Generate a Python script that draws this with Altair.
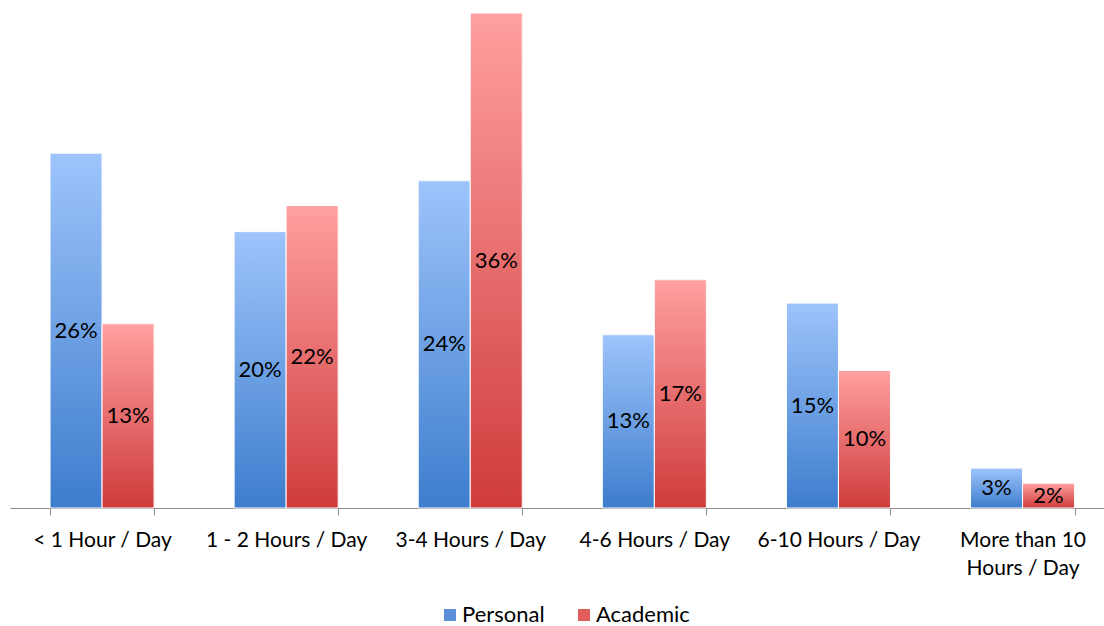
import altair as alt
import pandas as pd

categories = ["< 1 Hour / Day", "1 - 2 Hours / Day", "3-4 Hours / Day",
              "4-6 Hours / Day", "6-10 Hours / Day", "More than 10 Hours / Day"]
series = ["Personal", "Academic"]
personal = [25.8, 20.1, 23.8, 12.6, 14.9, 2.9]
academic = [13.4, 22.0, 36.0, 16.6, 10.0, 1.8]

rows = []
for c, p, a in zip(categories, personal, academic):
    rows.append({"cat": c, "series": "Personal", "value": p})
    rows.append({"cat": c, "series": "Academic", "value": a})
df = pd.DataFrame(rows)

FONT = "Lato"
FS = 22
step = 184.1
xscale = alt.Scale(domain=categories, range=[0, step * 6], paddingInner=0.435, paddingOuter=0.2175)
offscale = alt.Scale(domain=series)
yscale = alt.Scale(domain=[0, 36], nice=False, zero=True)

x_enc = alt.X("cat:N", scale=xscale, sort=categories, title=None,
              axis=alt.Axis(labelAngle=0, tickBand="extent", domainColor="#8c8c8c",
                            tickColor="#8c8c8c", tickSize=7, labelFontSize=21, labelFont=FONT,
                            labelColor="#000000", labelPadding=14, labelLineHeight=28,
                            labelExpr="datum.label == 'More than 10 Hours / Day' ? ['More than 10', 'Hours / Day'] : datum.label",
                            grid=False))
y_enc = alt.Y("value:Q", scale=yscale, axis=None)

base = alt.Chart(df)

solid = base.mark_bar().encode(
    x=x_enc, y=y_enc,
    xOffset=alt.XOffset("series:N", scale=offscale, sort=series),
    color=alt.Color("series:N", scale=alt.Scale(domain=series, range=["#5b8fd9", "#e05d5b"]),
                    sort=series,
                    legend=alt.Legend(title=None, orient="none", direction="horizontal",
                                      legendX=429, legendY=591, symbolType="square",
                                      symbolSize=144, symbolStrokeWidth=0, labelFontSize=FS,
                                      labelFont=FONT, labelColor="#000000", labelOffset=1,
                                      columnPadding=28, padding=0)),
)

def grad(top, bottom):
    return alt.Gradient(gradient="linear",
                        stops=[alt.GradientStop(color=top, offset=0),
                               alt.GradientStop(color=bottom, offset=1)],
                        x1=0, x2=0, y1=0, y2=1)

blue = base.transform_filter(alt.datum.series == "Personal").mark_bar(
    color=grad("#9ec4fb", "#3d7dcd"), stroke="#ffffff", strokeWidth=1).encode(
    x=alt.X("cat:N", scale=xscale, sort=categories),
    y=alt.Y("value:Q", scale=yscale),
    xOffset=alt.XOffset("series:N", scale=offscale, sort=series),
)
red = base.transform_filter(alt.datum.series == "Academic").mark_bar(
    color=grad("#ffa0a0", "#cf3b3b"), stroke="#ffffff", strokeWidth=1).encode(
    x=alt.X("cat:N", scale=xscale, sort=categories),
    y=alt.Y("value:Q", scale=yscale),
    xOffset=alt.XOffset("series:N", scale=offscale, sort=series),
)

labels = base.transform_calculate(
    mid="datum.value / 2", lab="round(datum.value) + '%'"
).mark_text(fontSize=FS, font=FONT, color="#000000", baseline="middle").encode(
    x=alt.X("cat:N", scale=xscale, sort=categories),
    y=alt.Y("mid:Q", scale=yscale),
    xOffset=alt.XOffset("series:N", scale=offscale, sort=series),
    text="lab:N",
)

chart = alt.layer(solid, blue, red, labels).properties(
    width=1094, height=495,
    autosize=alt.AutoSizeParams(type="none"),
    padding={"left": 10, "top": 13, "right": 0, "bottom": 118},
    background="#ffffff",
).configure_view(stroke=None)

chart.save("out.html", embed_options={"renderer": "svg", "actions": False})
